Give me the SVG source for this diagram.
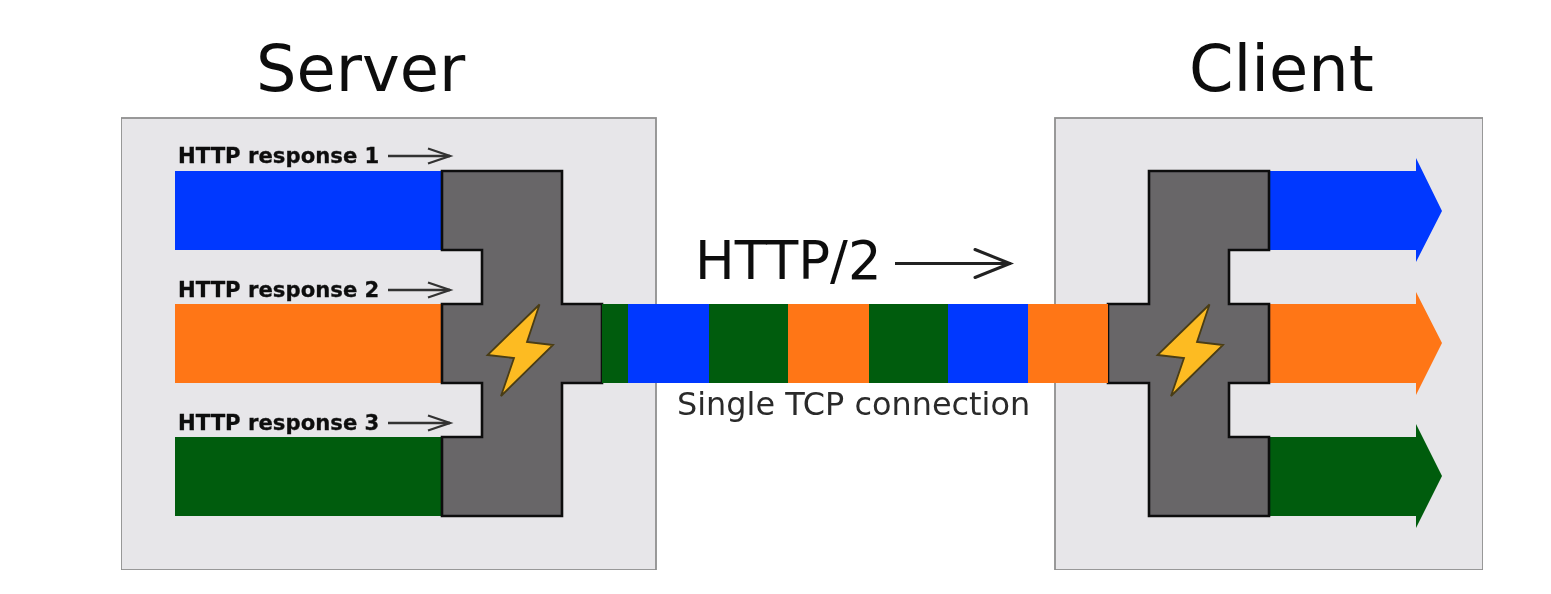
<svg xmlns="http://www.w3.org/2000/svg" width="1551" height="594" viewBox="0 0 1551 594">
<style>
text{font-family:"DejaVu Sans",sans-serif;fill:#111}
.title{font-size:63.8px}
.resp{font-size:21.2px;font-weight:bold;stroke:#111;stroke-width:.3}
.box{fill:#e7e6e9;stroke:#8f8f8f;stroke-width:1.8}
.mux{fill:#676668;stroke:#111;stroke-width:2.6;stroke-linejoin:miter}
.bolt{fill:#fdbb22;stroke:#4a3c14;stroke-width:1.8;stroke-linejoin:miter}
.thin{fill:none;stroke:#333;stroke-width:2.3}
.blue{fill:#0039ff}.orange{fill:#ff7618}.green{fill:#005c0b}
</style>
<defs>
<filter id="soft" x="0" y="0" width="100%" height="100%"><feGaussianBlur stdDeviation="0.7"/></filter>
<marker id="open" markerUnits="userSpaceOnUse" markerWidth="30" markerHeight="24" refX="25" refY="12" orient="auto"><path d="M3 4.5L25 12L3 19.500" fill="none" stroke="#333" stroke-width="2.3"/></marker>
<marker id="openL" markerUnits="userSpaceOnUse" markerWidth="44" markerHeight="36" refX="39" refY="18" orient="auto"><path d="M3 4L38 18L3 32" fill="none" stroke="#222" stroke-width="3" stroke-linecap="round"/></marker>
</defs>
<rect width="1551" height="594" fill="#fff"/>
<g filter="url(#soft)">
<g id="server">
<rect class="box" x="121" y="118" width="535" height="452"/>
<text class="title" x="256" y="91">Server</text>
<rect class="blue" x="175" y="171" width="267" height="79"/>
<rect class="orange" x="175" y="304" width="267" height="79"/>
<rect class="green" x="175" y="437" width="267" height="79"/>
<path class="mux" d="M442 171H562V304H602V383H562V516H442V437H482V383H442V304H482V250H442Z"/>
<path class="bolt" d="M539.500 304.500L527 342L553 345L501 396L514 358L487.500 355Z"/>
<text class="resp" x="178" y="163">HTTP response 1</text>
<text class="resp" x="178" y="297">HTTP response 2</text>
<text class="resp" x="178" y="430">HTTP response 3</text>
</g>
<g id="client">
<rect class="box" x="1055" y="118" width="428" height="452"/>
<text class="title" x="1189" y="91">Client</text>
<path class="blue" d="M1269 171H1416V158L1442 211L1416 262V250H1269Z"/>
<path class="orange" d="M1269 304H1416V292L1442 343L1416 395V383H1269Z"/>
<path class="green" d="M1269 437H1416V424L1442 476L1416 528V516H1269Z"/>
<path class="mux" d="M1149 171H1269V250H1229V304H1269V383H1229V437H1269V516H1149V383H1108V304H1149Z"/>
<path class="bolt" d="M1209.500 304.500L1197 342L1223 345L1171 396L1184 358L1157.500 355Z"/>
</g>
<g id="connection">
<rect class="green" x="602" y="304" width="26" height="79"/>
<rect class="blue" x="628" y="304" width="81" height="79"/>
<rect class="green" x="709" y="304" width="79" height="79"/>
<rect class="orange" x="788" y="304" width="81" height="79"/>
<rect class="green" x="869" y="304" width="79" height="79"/>
<rect class="blue" x="948" y="304" width="80" height="79"/>
<rect class="orange" x="1028" y="304" width="80" height="79"/>
<text x="695" y="279" font-size="52.8">HTTP/2</text>
<text x="677" y="415" font-size="31.9" style="fill:#2a2a2a">Single TCP connection</text>
</g>
<g id="connectors">
<path class="thin" d="M388 156H450" marker-end="url(#open)"/>
<path class="thin" d="M388 290H450" marker-end="url(#open)"/>
<path class="thin" d="M388 423H450" marker-end="url(#open)"/>
<path d="M895 263.500H1011" fill="none" stroke="#222" stroke-width="3" marker-end="url(#openL)"/>
</g>
</g>
</svg>
